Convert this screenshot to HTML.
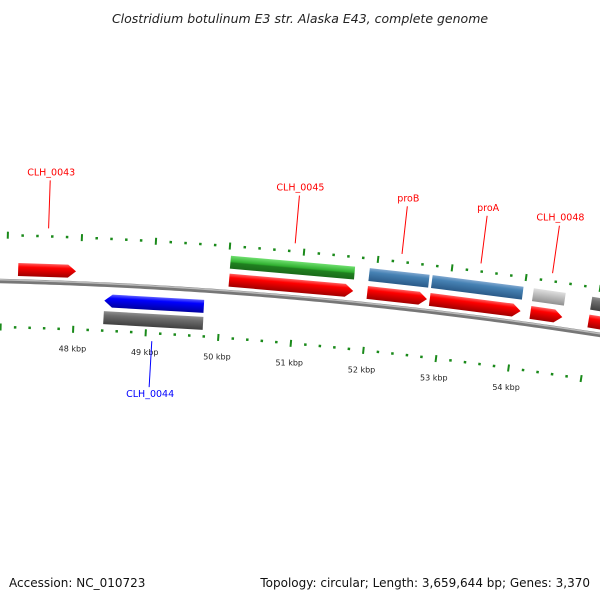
<!DOCTYPE html>
<html><head><meta charset="utf-8"><style>
body{margin:0;background:#fff}
svg{display:block;font-family:"DejaVu Sans","Liberation Sans",sans-serif}
</style></head><body>
<svg width="600" height="600" viewBox="0 0 600 600">
<defs>
<linearGradient id="gr" x1="0" y1="0" x2="0" y2="1"><stop offset="0" stop-color="#ff6060"/><stop offset="0.3" stop-color="#ff0000"/><stop offset="1" stop-color="#a00000"/></linearGradient>
<linearGradient id="gb" x1="0" y1="0" x2="0" y2="1"><stop offset="0" stop-color="#6060ff"/><stop offset="0.3" stop-color="#0000ff"/><stop offset="1" stop-color="#0000a0"/></linearGradient>
<linearGradient id="gg" x1="0" y1="0" x2="0" y2="1"><stop offset="0" stop-color="#70e070"/><stop offset="0.45" stop-color="#30b030"/><stop offset="0.55" stop-color="#208020"/><stop offset="1" stop-color="#1a6a1a"/></linearGradient>
<linearGradient id="gs" x1="0" y1="0" x2="0" y2="1"><stop offset="0" stop-color="#80a8d0"/><stop offset="0.3" stop-color="#4682b4"/><stop offset="1" stop-color="#2a5a88"/></linearGradient>
<linearGradient id="gd" x1="0" y1="0" x2="0" y2="1"><stop offset="0" stop-color="#909090"/><stop offset="0.3" stop-color="#6e6e6e"/><stop offset="1" stop-color="#404040"/></linearGradient>
<linearGradient id="gl" x1="0" y1="0" x2="0" y2="1"><stop offset="0" stop-color="#e0e0e0"/><stop offset="0.4" stop-color="#c0c0c0"/><stop offset="1" stop-color="#909090"/></linearGradient>
</defs>
<text x="300" y="23" text-anchor="middle" font-size="12.5" font-style="italic" fill="#222">Clostridium botulinum E3 str. Alaska E43, complete genome</text>
<path id="backbone" d="" fill="none" stroke="#777" stroke-width="4.5"/>
<path id="backbone2" d="" fill="none" stroke="#bbb" stroke-width="1.5"/>
<g id="ticks"></g>
<g id="genes"></g>
<g id="labels"></g>
<text x="9" y="587" font-size="12" fill="#111">Accession: NC_010723</text>
<text x="590" y="587" font-size="12" text-anchor="end" fill="#111">Topology: circular; Length: 3,659,644 bp; Genes: 3,370</text>
</svg>
<script>
const tickKbp=[47,48,49,50,51,52,53,54,55];
const tickLabels=["48 kbp","49 kbp","50 kbp","51 kbp","52 kbp","53 kbp","54 kbp"];
const labelKbp=[48,49,50,51,52,53,54];
const geneNames=["CLH_0043","CLH_0044","CLH_0045","proB","proA","CLH_0048","CLH_0049"];
const geneStart=[47.22,48.41,50.09,51.97,52.82,54.19,54.98];
const geneEnd=[48.01,49.77,51.79,52.79,54.07,54.63,56.0];
const geneStrand=[1,-1,1,1,1,1,1];
const geneFill=["","gd","gg","gs","gs","gl","gd"];
const cdsFill=["gr","gb","gr","gr","gr","gr","gr"];
const labelColor=["#f00","#00f","#f00","#f00","#f00","#f00",""];

const NS="http://www.w3.org/2000/svg";
function X(k){return 75+(k-48)*73.3;}
function baseY(x){return 281+0.0233*x+1.11e-4*x*x;}
function ang(x){return Math.atan(0.0233+2.22e-4*x);}
function pt(k,d){const x=X(k),t=ang(x);return [x-d*Math.sin(t),baseY(x)+d*Math.cos(t)];}
let p="";for(let x=-5;x<=605;x+=5){p+=(x<0?"M":"L")+x+","+baseY(x).toFixed(2);}
document.getElementById('backbone').setAttribute('d',p);
document.getElementById('backbone2').setAttribute('d',p.replace(/,([\d.]+)/g,(m,y)=>","+(parseFloat(y)-1.2).toFixed(2)));
const tg=document.getElementById('ticks');
for(let k=Math.round(tickKbp[0]*5);k<=tickKbp[tickKbp.length-1]*5;k++){
  const kb=k/5,major=k%5===0;
  [[-46,5/73.3],[46,0]].forEach(([d,sh])=>{
    const len=major?7:2.5;
    const a=pt(kb+sh,d-len/2),b=pt(kb+sh,d+len/2);
    const l=document.createElementNS(NS,'line');
    l.setAttribute('x1',a[0]);l.setAttribute('y1',a[1]);l.setAttribute('x2',b[0]);l.setAttribute('y2',b[1]);
    l.setAttribute('stroke','#1a8a1a');l.setAttribute('stroke-width',major?2:2.5);
    
    
    tg.appendChild(l);
  });
}
tickLabels.forEach((t,i)=>{
  const a=pt(labelKbp[i],64);
  const e=document.createElementNS(NS,'text');
  e.setAttribute('x',a[0]);e.setAttribute('y',a[1]+4);e.setAttribute('text-anchor','middle');
  e.setAttribute('font-size','8');e.setAttribute('fill','#222');e.textContent=t;
  
  
  tg.appendChild(e);
});
const gg=document.getElementById('genes');
function feature(s,e,d,strand,fill,arrow,name){
  const x0=X(s),x1=X(e),w=x1-x0,h=13;
  const c=pt(s,d),t=ang((x0+x1)/2)*180/Math.PI;
  const g=document.createElementNS(NS,'polygon');
  const hd=arrow?Math.min(8,w):0;
  let pts;
  if(strand>0)pts=[[0,-h/2],[w-hd,-h/2],[w,0],[w-hd,h/2],[0,h/2]];
  else pts=[[hd,-h/2],[w,-h/2],[w,h/2],[hd,h/2],[0,0]];
  g.setAttribute('points',pts.map(q=>q.join(',')).join(' '));
  g.setAttribute('fill','url(#'+fill+')');
  g.setAttribute('transform',`translate(${c[0]},${c[1]}) rotate(${t})`);
  
  
  gg.appendChild(g);
}
geneNames.forEach((n,i)=>{
  const st=geneStrand[i];
  if(geneFill[i])feature(geneStart[i],geneEnd[i],st>0?-30:33,st,geneFill[i],false,n.toLowerCase().replace('_','-')+'-gene');
  feature(geneStart[i],geneEnd[i],st>0?-12:16,st,cdsFill[i],true,n.toLowerCase().replace('_','-')+'-cds');
});
const lg=document.getElementById('labels');
geneNames.forEach((n,i)=>{
  if(!labelColor[i])return;
  const mid=(geneStart[i]+geneEnd[i])/2;
  const st=geneStrand[i];
  const a=st>0?pt(mid,-54):pt(mid,54),b=st>0?pt(mid,-102):pt(mid,100);
  const l=document.createElementNS(NS,'line');
  l.setAttribute('x1',a[0]);l.setAttribute('y1',a[1]);l.setAttribute('x2',b[0]);l.setAttribute('y2',b[1]);
  l.setAttribute('stroke',labelColor[i]);l.setAttribute('stroke-width','1');
  
  
  lg.appendChild(l);
  const e=document.createElementNS(NS,'text');
  e.setAttribute('x',b[0]+1);e.setAttribute('y',st>0?b[1]-5:b[1]+10);e.setAttribute('text-anchor','middle');
  e.setAttribute('font-size','9.5');e.setAttribute('fill',labelColor[i]);e.textContent=n;
  
  
  lg.appendChild(e);
});
</script>
</body></html>
